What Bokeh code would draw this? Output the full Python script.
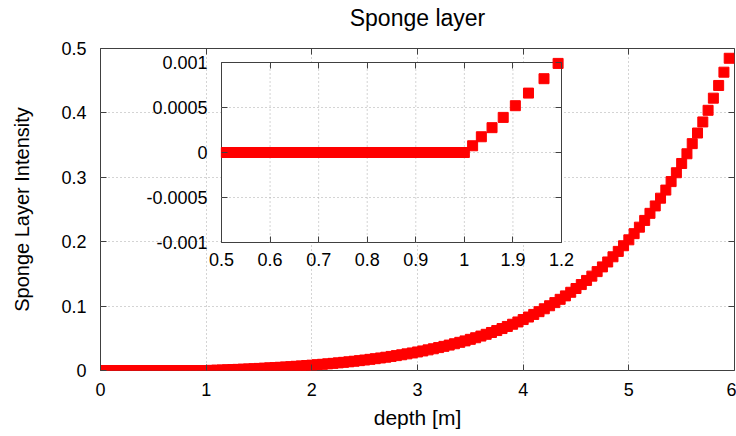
from bokeh.plotting import figure
from bokeh.models import Range1d, LinearAxis, FixedTicker, CustomJSTickFormatter
from bokeh.embed import file_html
from bokeh.resources import INLINE

FONT = "Liberation Sans"

# ---------------- data ----------------
depth = [0.00, 0.05, 0.10, 0.15, 0.20, 0.25, 0.30, 0.35, 0.40, 0.45,
         0.50, 0.55, 0.60, 0.65, 0.70, 0.75, 0.80, 0.85, 0.90, 0.95,
         1.00, 1.05, 1.10, 1.15, 1.20, 1.25, 1.30, 1.35, 1.40, 1.45,
         1.50, 1.55, 1.60, 1.65, 1.70, 1.75, 1.80, 1.85, 1.90, 1.95,
         2.00, 2.05, 2.10, 2.15, 2.20, 2.25, 2.30, 2.35, 2.40, 2.45,
         2.50, 2.55, 2.60, 2.65, 2.70, 2.75, 2.80, 2.85, 2.90, 2.95,
         3.00, 3.05, 3.10, 3.15, 3.20, 3.25, 3.30, 3.35, 3.40, 3.45,
         3.50, 3.55, 3.60, 3.65, 3.70, 3.75, 3.80, 3.85, 3.90, 3.95,
         4.00, 4.05, 4.10, 4.15, 4.20, 4.25, 4.30, 4.35, 4.40, 4.45,
         4.50, 4.55, 4.60, 4.65, 4.70, 4.75, 4.80, 4.85, 4.90, 4.95,
         5.00, 5.05, 5.10, 5.15, 5.20, 5.25, 5.30, 5.35, 5.40, 5.45,
         5.50, 5.55, 5.60, 5.65, 5.70, 5.75, 5.80, 5.85, 5.90, 5.95]

intensity = [0.0, 0.0, 0.0, 0.0, 0.0, 0.0, 0.0, 0.0, 0.0, 0.0,
             0.0, 0.0, 0.0, 0.0, 0.0, 0.0, 0.0, 0.0, 0.0, 0.0,
             0.0, 0.00026, 0.00054, 0.00082, 0.00112, 0.00144, 0.00177, 0.00211, 0.00247, 0.00285,
             0.00324, 0.00365, 0.00408, 0.00453, 0.00500, 0.00550, 0.00601, 0.00655, 0.00711, 0.00770,
             0.00832, 0.00897, 0.00964, 0.01035, 0.01109, 0.01186, 0.01267, 0.01351, 0.01440, 0.01532,
             0.01629, 0.01730, 0.01836, 0.01947, 0.02062, 0.02184, 0.02310, 0.02443, 0.02582, 0.02727,
             0.02878, 0.03037, 0.03203, 0.03377, 0.03558, 0.03748, 0.03947, 0.04155, 0.04373, 0.04600,
             0.04838, 0.05087, 0.05347, 0.05620, 0.05905, 0.06203, 0.06514, 0.06840, 0.07182, 0.07538,
             0.07911, 0.08302, 0.08710, 0.09137, 0.09584, 0.10052, 0.10540, 0.11052, 0.11587, 0.12146,
             0.12732, 0.13344, 0.13984, 0.14654, 0.15355, 0.16088, 0.16855, 0.17657, 0.18496, 0.19373,
             0.20291, 0.21251, 0.22256, 0.23306, 0.24405, 0.25555, 0.26757, 0.28015, 0.29331, 0.30707,
             0.32147, 0.33653, 0.35228, 0.36875, 0.38599, 0.40402, 0.42288, 0.44260, 0.46324, 0.48482]

inset_depth = [0.51, 0.52, 0.53, 0.54, 0.55, 0.56, 0.57, 0.58, 0.59, 0.60,
               0.61, 0.62, 0.63, 0.64, 0.65, 0.66, 0.67, 0.68, 0.69, 0.70,
               0.71, 0.72, 0.73, 0.74, 0.75, 0.76, 0.77, 0.78, 0.79, 0.80,
               0.81, 0.82, 0.83, 0.84, 0.85, 0.86, 0.87, 0.88, 0.89, 0.90,
               0.91, 0.92, 0.93, 0.94, 0.95, 0.96, 0.97, 0.98, 0.99, 1.00,
               1.017, 1.035, 1.057, 1.080, 1.105, 1.132, 1.164, 1.193]

inset_intensity = [0.0, 0.0, 0.0, 0.0, 0.0, 0.0, 0.0, 0.0, 0.0, 0.0,
                   0.0, 0.0, 0.0, 0.0, 0.0, 0.0, 0.0, 0.0, 0.0, 0.0,
                   0.0, 0.0, 0.0, 0.0, 0.0, 0.0, 0.0, 0.0, 0.0, 0.0,
                   0.0, 0.0, 0.0, 0.0, 0.0, 0.0, 0.0, 0.0, 0.0, 0.0,
                   0.0, 0.0, 0.0, 0.0, 0.0, 0.0, 0.0, 0.0, 0.0, 0.0,
                   0.000075, 0.000175, 0.000276, 0.00039, 0.00052, 0.00066, 0.00082, 0.00099]

main_x_ticks = [0, 1, 2, 3, 4, 5, 6]
main_x_labels = ["0", "1", "2", "3", "4", "5", "6"]
main_y_ticks = [0, 0.1, 0.2, 0.3, 0.4, 0.5]
main_y_labels = ["0", "0.1", "0.2", "0.3", "0.4", "0.5"]

inset_x_ticks = [0.5, 0.6, 0.7, 0.8, 0.9, 1.0, 1.1, 1.2]
inset_x_labels = ["0.5", "0.6", "0.7", "0.8", "0.9", "1", "1.9", "1.2"]
inset_y_ticks = [-0.001, -0.0005, 0, 0.0005, 0.001]
inset_y_labels = ["-0.001", "-0.0005", "0", "0.0005", "0.001"]

title_text = "Sponge layer"
x_label = "depth [m]"
y_label = "Sponge Layer Intensity"

# ---------------- layout constants (pixels) ----------------
W, H = 736, 436
FL, FR, FT, FB = 100, 734, 48, 370      # main frame
IL, IR, IT, IB = 221, 561, 62, 242      # inset box inside the window
RED = "#ff0000"
FRAME = "#404040"
GRID = "#a8a8a8"
TICK_FS = "18px"


def fmt(ticks, labels):
    return CustomJSTickFormatter(args=dict(tv=ticks, tl=labels), code="""
        for (let i = 0; i < tv.length; i++) {
            if (Math.abs(tv[i] - tick) < 1e-9) return tl[i];
        }
        return '';
    """)


def blank():
    return CustomJSTickFormatter(code="return '';")


def style_axis(ax):
    ax.major_tick_in = 6
    ax.major_tick_out = 0
    ax.minor_tick_line_color = None
    ax.major_tick_line_color = FRAME
    ax.axis_line_color = None
    ax.major_label_text_font = FONT
    ax.major_label_text_font_size = TICK_FS
    ax.major_label_text_color = "black"


x0, x1 = main_x_ticks[0], main_x_ticks[-1]
y0, y1 = main_y_ticks[0], main_y_ticks[-1]

p = figure(width=W, height=H, output_backend="svg", toolbar_location=None, tools="",
           x_range=Range1d(x0, x1), y_range=Range1d(y0, y1),
           min_border_left=FL, min_border_right=W - FR,
           min_border_top=FT, min_border_bottom=H - FB)
p.background_fill_color = "white"
p.border_fill_color = "white"
p.outline_line_color = FRAME
p.outline_line_width = 1

# main axes
xa = p.xaxis[0]
style_axis(xa)
xa.ticker = FixedTicker(ticks=main_x_ticks)
xa.formatter = fmt(main_x_ticks, main_x_labels)
xa.major_label_standoff = 12
xa.axis_label = x_label
xa.axis_label_standoff = 7
xa.axis_label_text_font = FONT
xa.axis_label_text_font_size = "21px"
xa.axis_label_text_font_style = "normal"
xa.axis_label_text_color = "black"

ya = p.yaxis[0]
style_axis(ya)
ya.ticker = FixedTicker(ticks=main_y_ticks)
ya.formatter = fmt(main_y_ticks, main_y_labels)
ya.major_label_standoff = 14
ya.axis_label = y_label
ya.axis_label_standoff = 25
ya.axis_label_text_font = FONT
ya.axis_label_text_font_size = "20px"
ya.axis_label_text_font_style = "normal"
ya.axis_label_text_color = "black"

# top edge: mirrored ticks, and the chart title carried as this axis' label
top_ax = LinearAxis(ticker=FixedTicker(ticks=main_x_ticks), formatter=blank())
style_axis(top_ax)
top_ax.major_label_text_font_size = "0px"
top_ax.major_label_standoff = 0
top_ax.axis_label = title_text
top_ax.axis_label_standoff = 18
top_ax.axis_label_text_font = FONT
top_ax.axis_label_text_font_size = "23px"
top_ax.axis_label_text_font_style = "normal"
top_ax.axis_label_text_color = "black"
p.add_layout(top_ax, "above")

# right edge: mirrored ticks
right_ax = LinearAxis(fixed_location=x1, ticker=FixedTicker(ticks=main_y_ticks), formatter=blank())
style_axis(right_ax)
p.add_layout(right_ax, "right")

# grids
for g, t in ((p.xgrid, main_x_ticks), (p.ygrid, main_y_ticks)):
    g.ticker = FixedTicker(ticks=t)
    g.grid_line_color = GRID
    g.grid_line_dash = "1 3"
    g.grid_line_width = 1

# main data
p.scatter(depth, intensity, marker="square", size=10, fill_color=RED, line_color=RED,
          fill_alpha=1, line_alpha=1)

# ---------------- inset (own ranges mapped onto a sub-box) ----------------
ixl, ixr = inset_x_ticks[0], inset_x_ticks[-1]
iyb, iyt = inset_y_ticks[0], inset_y_ticks[-1]
sx = (ixr - ixl) / (IR - IL)
sy = (iyt - iyb) / (IB - IT)
p.extra_x_ranges = {"ix": Range1d(ixl - (IL - FL) * sx, ixr + (FR - IR) * sx)}
p.extra_y_ranges = {"iy": Range1d(iyb - (FB - IB) * sy, iyt + (IT - FT) * sy)}

p.quad(left=[ixl], right=[ixr], bottom=[iyb], top=[iyt], x_range_name="ix", y_range_name="iy",
       fill_color="white", line_color=FRAME, line_width=1)

gx = [t for t in inset_x_ticks if ixl < t < ixr]
gy = [t for t in inset_y_ticks if iyb < t < iyt]
p.segment(x0=gx, y0=[iyb] * len(gx), x1=gx, y1=[iyt] * len(gx), x_range_name="ix", y_range_name="iy",
          line_color=GRID, line_dash="1 3", line_width=1)
p.segment(x0=[ixl] * len(gy), y0=gy, x1=[ixr] * len(gy), y1=gy, x_range_name="ix", y_range_name="iy",
          line_color=GRID, line_dash="1 3", line_width=1)

p.scatter(inset_depth, inset_intensity, marker="square", size=10, fill_color=RED, line_color=RED,
          fill_alpha=1, line_alpha=1, x_range_name="ix", y_range_name="iy")

il = LinearAxis(x_range_name="ix", y_range_name="iy", fixed_location=ixl, bounds=(iyb, iyt),
                ticker=FixedTicker(ticks=inset_y_ticks), formatter=fmt(inset_y_ticks, inset_y_labels))
style_axis(il)
il.major_label_standoff = 14
p.add_layout(il, "left")

ib = LinearAxis(x_range_name="ix", y_range_name="iy", fixed_location=iyb, bounds=(ixl, ixr),
                ticker=FixedTicker(ticks=inset_x_ticks), formatter=fmt(inset_x_ticks, inset_x_labels))
style_axis(ib)
ib.major_label_standoff = 10
p.add_layout(ib, "below")

ir = LinearAxis(x_range_name="ix", y_range_name="iy", fixed_location=ixr, bounds=(iyb, iyt),
                ticker=FixedTicker(ticks=inset_y_ticks), formatter=blank())
style_axis(ir)
p.add_layout(ir, "right")

it = LinearAxis(x_range_name="ix", y_range_name="iy", fixed_location=iyt, bounds=(ixl, ixr),
                ticker=FixedTicker(ticks=inset_x_ticks), formatter=blank())
style_axis(it)
p.add_layout(it, "above")

open("out.html", "w").write(file_html(p, INLINE))
